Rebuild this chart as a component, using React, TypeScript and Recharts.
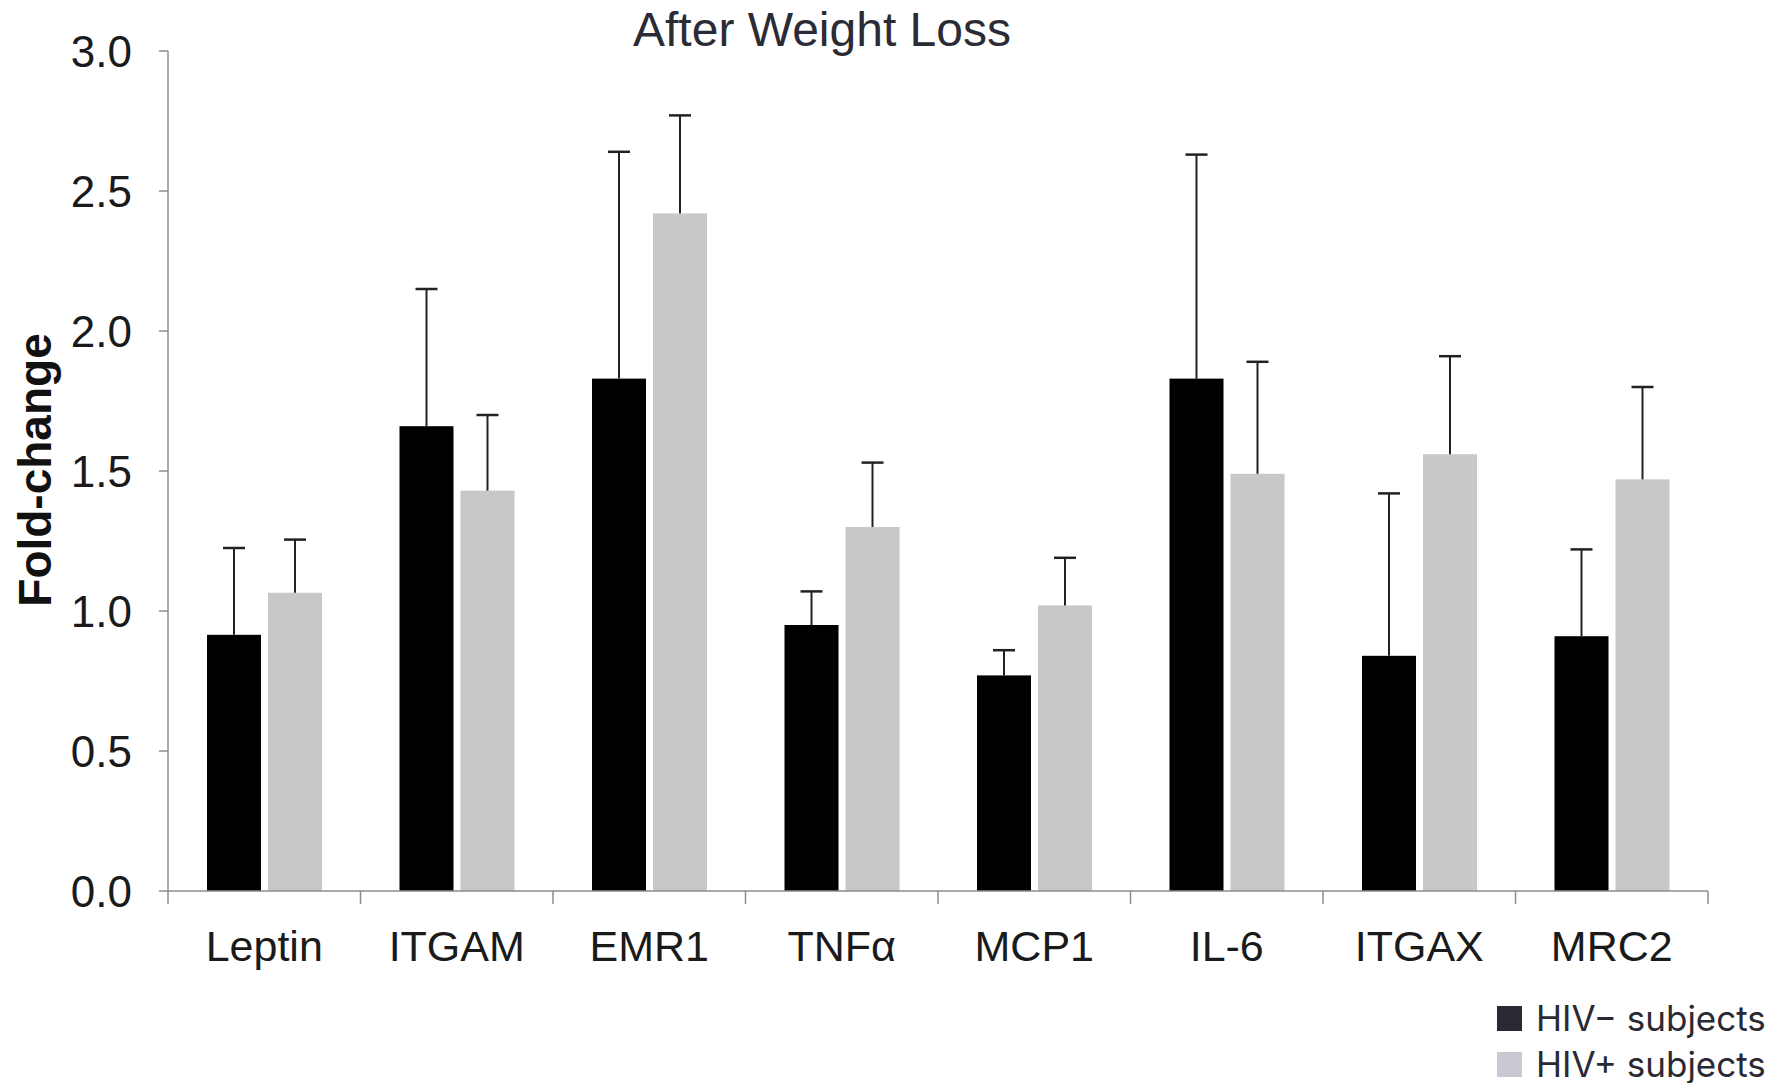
import { BarChart, Bar, XAxis, YAxis, Legend } from 'recharts';

const categories = ['Leptin', 'ITGAM', 'EMR1', 'TNFα', 'MCP1', 'IL-6', 'ITGAX', 'MRC2'];
const hivNeg = [0.915, 1.66, 1.83, 0.95, 0.77, 1.83, 0.84, 0.91];
const hivNegErr = [0.31, 0.49, 0.81, 0.12, 0.09, 0.8, 0.58, 0.31];
const hivPos = [1.065, 1.43, 2.42, 1.3, 1.02, 1.49, 1.56, 1.47];
const hivPosErr = [0.19, 0.27, 0.35, 0.23, 0.17, 0.4, 0.35, 0.33];
const yTicks = [0, 0.5, 1, 1.5, 2, 2.5, 3];

const legendItems = [
  { label: 'HIV− subjects', color: '#2a2a33' },
  { label: 'HIV+ subjects', color: '#c9c9d3' },
];

const data = categories.map((name, i) => ({
  name,
  neg: hivNeg[i],
  negErr: hivNegErr[i],
  pos: hivPos[i],
  posErr: hivPosErr[i],
}));

const AXIS = '#8c8c8c';
const FONT = 'Arial, "Liberation Sans", Helvetica, sans-serif';

// bar + upward-only error whisker (px per unit taken from the bar's own height)
function barWithError(errKey: string, valueKey: string) {
  return (props: any) => {
    const { x, y, width, height, fill, payload } = props;
    const pxPerUnit = height / payload[valueKey];
    const top = y - payload[errKey] * pxPerUnit;
    const cx = x + width / 2;
    return (
      <g>
        <rect x={x} y={y} width={width} height={height} fill={fill} />
        <line x1={cx} y1={y} x2={cx} y2={top} stroke="#222" strokeWidth={2} />
        <line x1={cx - 11} y1={top} x2={cx + 11} y2={top} stroke="#222" strokeWidth={2.5} />
      </g>
    );
  };
}

function CategoryTick(props: any) {
  const { x, y, payload, index, visibleTicksCount } = props;
  const half = payload.offset || 96;
  return (
    <g>
      <line x1={x - half} y1={y} x2={x - half} y2={y + 13} stroke={AXIS} strokeWidth={1.5} />
      {index === visibleTicksCount - 1 && (
        <line x1={x + half} y1={y} x2={x + half} y2={y + 13} stroke={AXIS} strokeWidth={1.5} />
      )}
      <text x={x} y={y + 70} textAnchor="middle" fontSize={43} fill="#1a1a1a" fontFamily={FONT}>
        {payload.value}
      </text>
    </g>
  );
}

function LegendBox() {
  return (
    <div style={{ fontFamily: 'Inter, "Noto Sans", sans-serif', fontSize: 35, color: '#2a2a33' }}>
      {legendItems.map((item) => (
        <div key={item.label} style={{ display: 'flex', alignItems: 'center', height: 46 }}>
          <span
            style={{
              display: 'inline-block',
              width: 25,
              height: 25,
              background: item.color,
              marginRight: 14,
            }}
          />
          {item.label}
        </div>
      ))}
    </div>
  );
}

export default function App() {
  return (
    <div style={{ position: 'absolute', left: 0, top: 0, width: 1785, height: 1083, background: '#fff' }}>
      <BarChart
        width={1785}
        height={1083}
        data={data}
        margin={{ top: 51, right: 77, bottom: 132, left: 48 }}
        barSize={54}
        barGap={7}
      >
        <text x={822} y={46} textAnchor="middle" fontSize={48} fill="#2b2b36" fontFamily={FONT}>
          After Weight Loss
        </text>
        <text
          x={35}
          y={470}
          transform="rotate(-90 35 470)"
          textAnchor="middle"
          dominantBaseline="central"
          fontSize={46}
          fontWeight="bold"
          fill="#111"
          fontFamily={FONT}
        >
          Fold-change
        </text>
        <XAxis
          dataKey="name"
          height={60}
          axisLine={{ stroke: AXIS, strokeWidth: 1.5 }}
          tickLine={false}
          tickSize={0}
          tickMargin={0}
          interval={0}
          tick={<CategoryTick />}
        />
        <YAxis
          width={120}
          domain={[0, 3]}
          ticks={yTicks}
          interval={0}
          tickFormatter={(v: number) => v.toFixed(1)}
          axisLine={{ stroke: AXIS, strokeWidth: 1.5 }}
          tickLine={{ stroke: AXIS, strokeWidth: 1.5 }}
          tickSize={9}
          tickMargin={27}
          tick={{ fontSize: 44, fill: '#1a1a1a', fontFamily: FONT }}
        />
        <Legend
          layout="horizontal"
          verticalAlign="middle"
          align="center"
          content={<LegendBox />}
          wrapperStyle={{ position: 'absolute', left: 1497, top: 995, width: 288 }}
        />
        <Bar dataKey="neg" fill="#000000" isAnimationActive={false} shape={barWithError('negErr', 'neg')} />
        <Bar dataKey="pos" fill="#c8c8c8" isAnimationActive={false} shape={barWithError('posErr', 'pos')} />
      </BarChart>
    </div>
  );
}
